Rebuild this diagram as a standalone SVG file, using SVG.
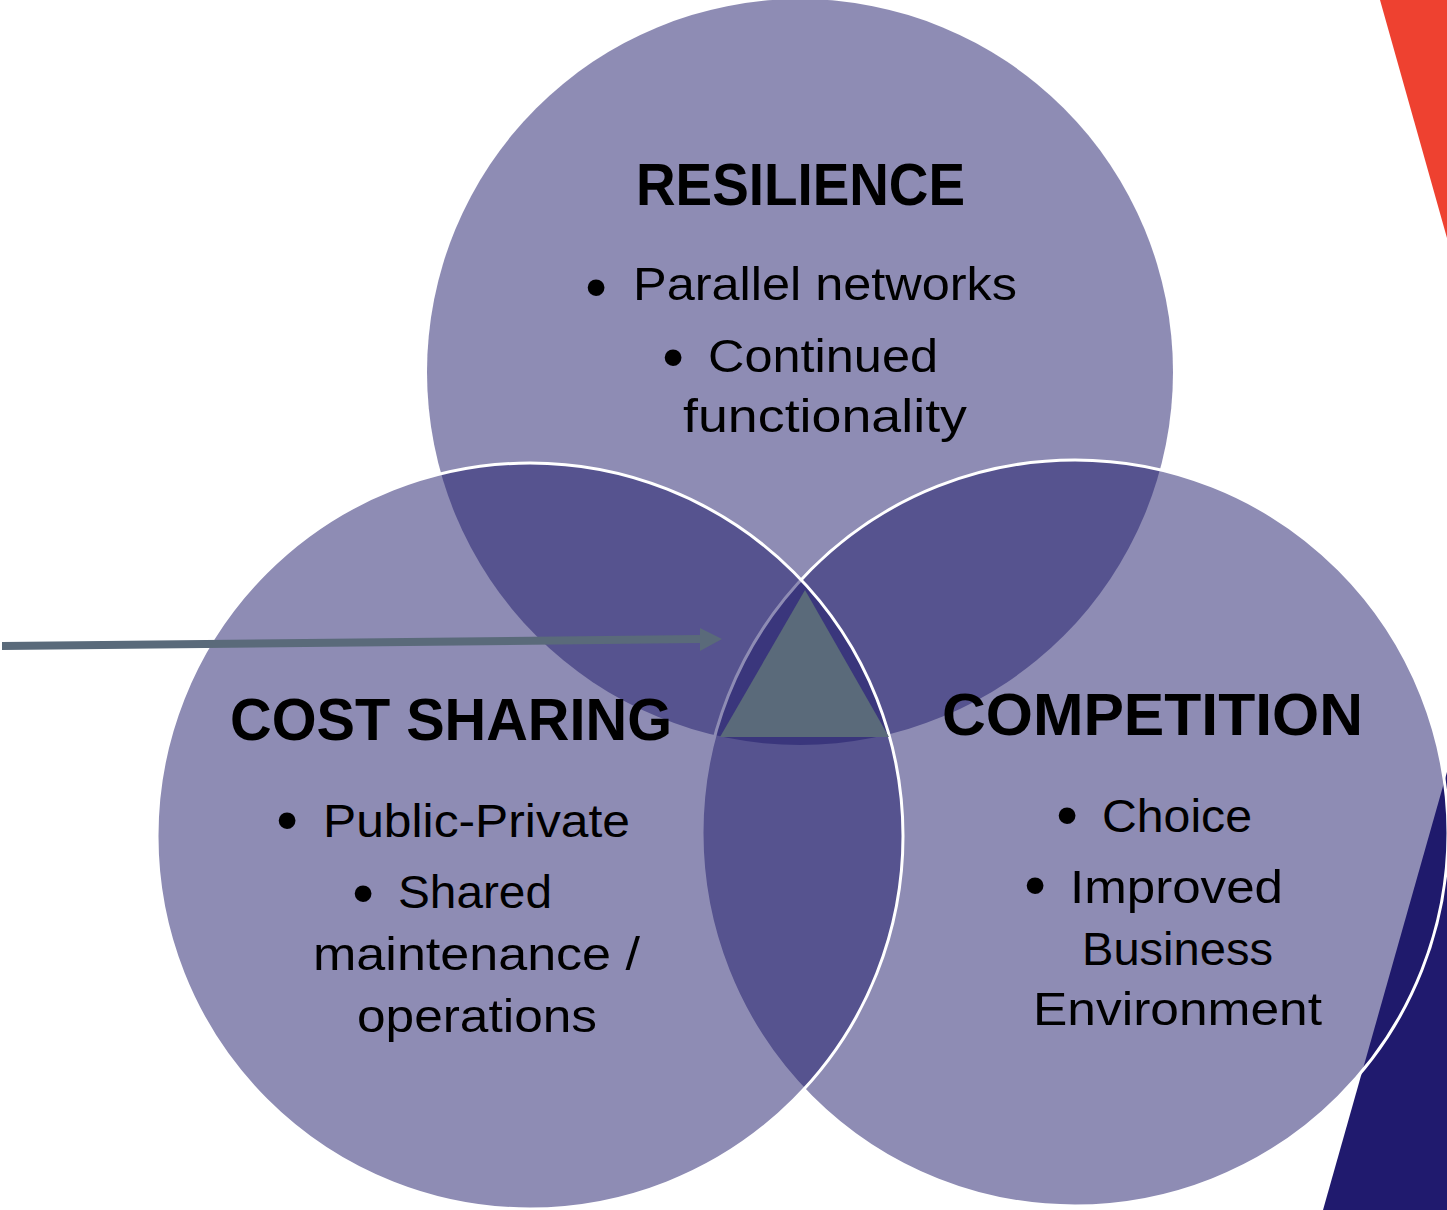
<svg xmlns="http://www.w3.org/2000/svg" width="1447" height="1210" viewBox="0 0 1447 1210">
<style>
.circ{fill:#1E1A69;fill-opacity:0.5}
.edge{fill:none;stroke:#ffffff;stroke-width:3}
.head{font-family:"Liberation Sans",Arial,sans-serif;font-weight:bold;font-size:60px;fill:#000}
.body{font-family:"Liberation Sans",Arial,sans-serif;font-size:46px;fill:#000}
.bul{font-family:"Liberation Sans",Arial,sans-serif;font-size:62px;fill:#000;text-anchor:middle}
</style>
<rect width="1447" height="1210" fill="#ffffff"/>
<g id="decor">
<polygon points="1380,0 1447,0 1447,238" fill="#EE4130"/>
<polygon points="1447,772 1447,1210 1323,1210" fill="#201A6E"/>
</g>
<g id="resilience">
<circle class="circ" cx="800" cy="372" r="373"/>
<text class="head" x="636" y="205" textLength="329" lengthAdjust="spacingAndGlyphs">RESILIENCE</text>
<text class="bul" x="596" y="308">•</text>
<text class="body" x="633" y="300" textLength="384" lengthAdjust="spacingAndGlyphs">Parallel networks</text>
<text class="bul" x="673" y="378">•</text>
<text class="body" x="708" y="372" textLength="230" lengthAdjust="spacingAndGlyphs">Continued</text>
<text class="body" x="683" y="432" textLength="284" lengthAdjust="spacingAndGlyphs">functionality</text>
</g>
<g id="competition">
<circle class="circ" cx="1075" cy="833" r="373"/>
<circle class="edge" cx="1075" cy="833" r="373"/>
<text class="head" x="942" y="735" textLength="421" lengthAdjust="spacingAndGlyphs">COMPETITION</text>
<text class="bul" x="1067" y="836">•</text>
<text class="body" x="1102" y="832" textLength="150" lengthAdjust="spacingAndGlyphs">Choice</text>
<text class="bul" x="1035" y="906">•</text>
<text class="body" x="1070" y="903" textLength="213" lengthAdjust="spacingAndGlyphs">Improved</text>
<text class="body" x="1082" y="965" textLength="191" lengthAdjust="spacingAndGlyphs">Business</text>
<text class="body" x="1033" y="1025" textLength="289" lengthAdjust="spacingAndGlyphs">Environment</text>
</g>
<g id="cost-sharing">
<circle class="circ" cx="530" cy="836" r="373"/>
<circle class="edge" cx="530" cy="836" r="373"/>
<text class="head" x="230" y="740" textLength="442" lengthAdjust="spacingAndGlyphs">COST SHARING</text>
<text class="bul" x="287" y="841">•</text>
<text class="body" x="323" y="837" textLength="307" lengthAdjust="spacingAndGlyphs">Public-Private</text>
<text class="bul" x="363" y="914">•</text>
<text class="body" x="398" y="908" textLength="154" lengthAdjust="spacingAndGlyphs">Shared</text>
<text class="body" x="313" y="970" textLength="327" lengthAdjust="spacingAndGlyphs">maintenance /</text>
<text class="body" x="357" y="1032" textLength="240" lengthAdjust="spacingAndGlyphs">operations</text>
</g>
<g id="center">
<polygon points="720,737 805,590 889,737" fill="#5A6A7A"/>
</g>
<g id="connectors">
<polygon points="2,642 700,635 700,628 722,639 700,651 700,643 2,650" fill="#5A6A7A"/>
</g>
</svg>
